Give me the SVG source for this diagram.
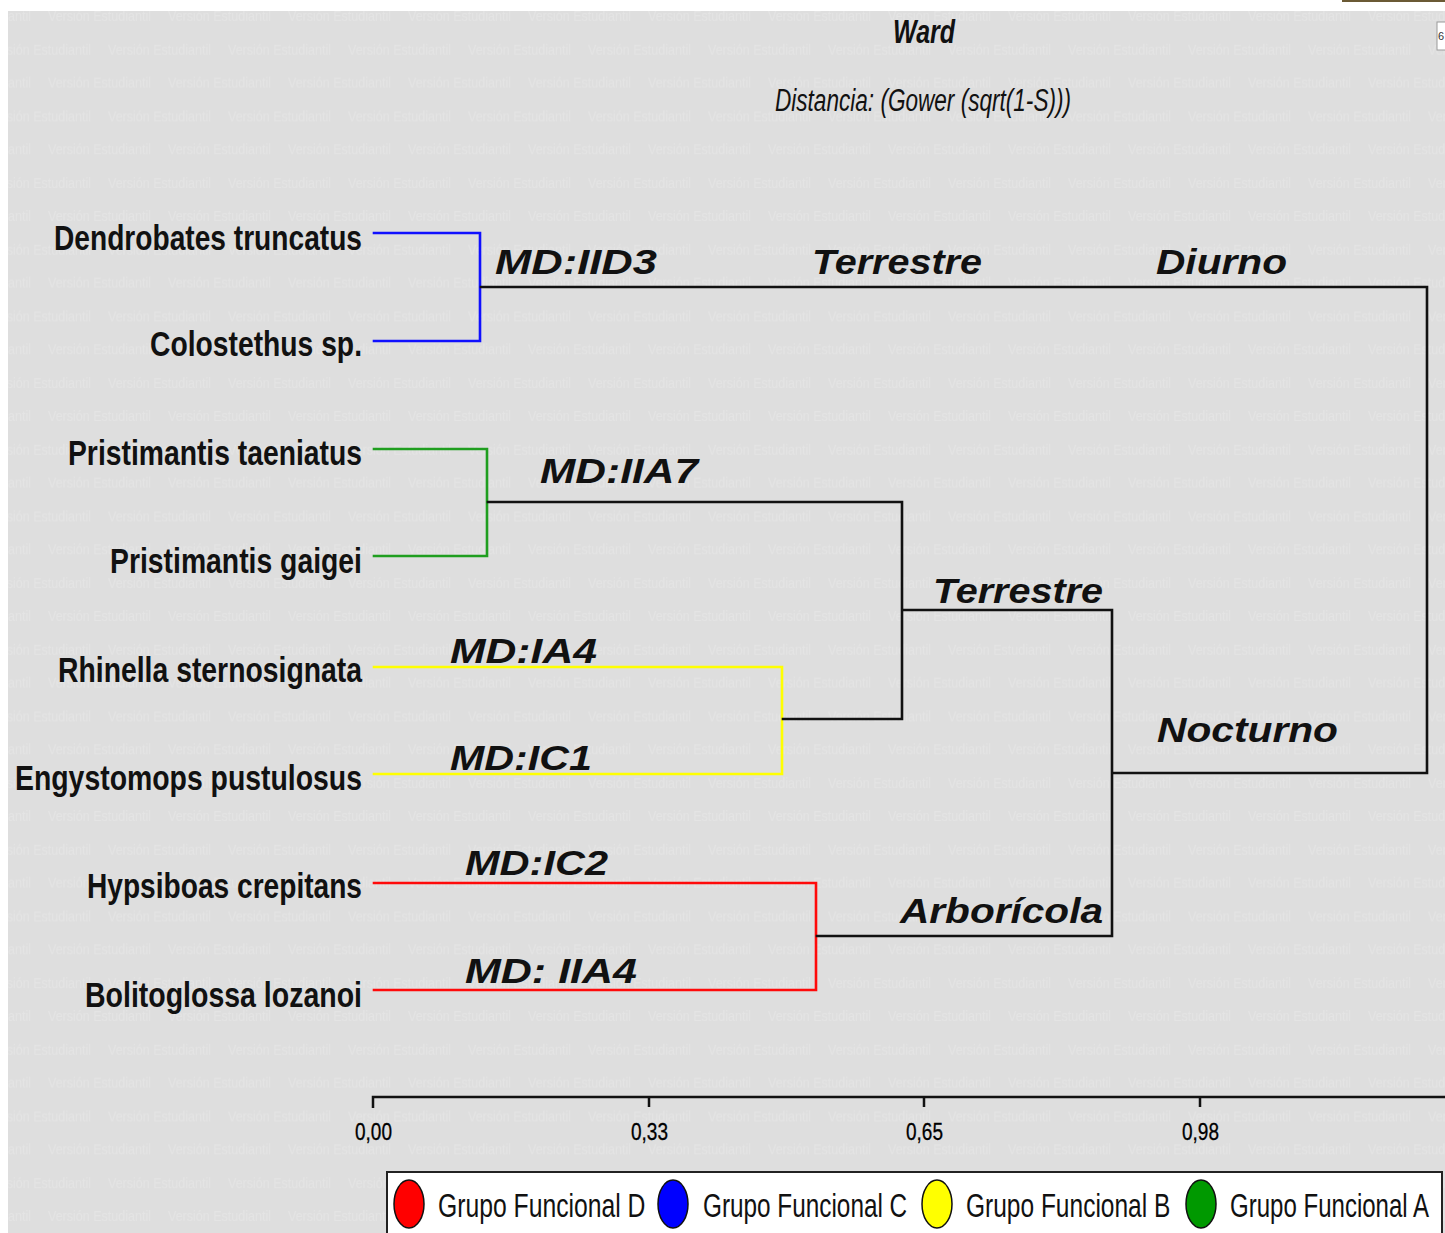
<svg xmlns="http://www.w3.org/2000/svg" width="1445" height="1233" viewBox="0 0 1445 1233">
  <style>
    .leaf { font-family: "Liberation Sans Narrow", "Liberation Sans", Arial, sans-serif; font-weight: bold; font-size: 35px; fill: #111; text-anchor: start; }
    .clab { font-family: "Liberation Sans", Arial, sans-serif; font-weight: bold; font-style: italic; font-size: 35px; fill: #111; }
    .title { font-family: "Liberation Sans Narrow", "Liberation Sans", Arial, sans-serif; font-style: italic; fill: #111; }
    .tick { font-family: "Liberation Sans Narrow", "Liberation Sans", Arial, sans-serif; font-size: 24px; fill: #000; stroke: #000; stroke-width: 0.3; }
    .leg { font-family: "Liberation Sans", Arial, sans-serif; font-size: 34px; fill: #111; }
    .wm { font-family: "Liberation Sans Narrow", "Liberation Sans", Arial, sans-serif; font-size: 15px; fill: #e4e4e4; }
    .br { fill: none; stroke-width: 2.6; stroke-linejoin: miter; stroke-linecap: square; }
  </style>
  <defs>
    <!-- repeated faint watermark of the student edition -->
    <pattern id="wmark" patternUnits="userSpaceOnUse" x="0" y="0" width="120" height="66.67">
      <text class="wm" x="-72" y="21" textLength="103" lengthAdjust="spacingAndGlyphs">Versión Estudiantil</text>
      <text class="wm" x="48" y="21" textLength="103" lengthAdjust="spacingAndGlyphs">Versión Estudiantil</text>
      <text class="wm" x="-12" y="54.5" textLength="103" lengthAdjust="spacingAndGlyphs">Versión Estudiantil</text>
      <text class="wm" x="108" y="54.5" textLength="103" lengthAdjust="spacingAndGlyphs">Versión Estudiantil</text>
    </pattern>
  </defs>

  <!-- page and plot background -->
  <rect x="0" y="0" width="1445" height="1233" fill="#ffffff"/>
  <rect x="8" y="11" width="1437" height="1222" fill="#dedede"/>
  <rect x="8" y="11" width="1437" height="1222" fill="url(#wmark)"/>
  <rect x="1342" y="0" width="103" height="2" fill="#6b5a35"/>
  <rect x="1437" y="22" width="10" height="28" fill="#ffffff" stroke="#9a9a9a" stroke-width="1"/>
  <text x="1438" y="40" font-family="Liberation Sans, Arial, sans-serif" font-size="11" fill="#333">6</text>

  <!-- titles -->
  <g id="title">
    <text class="title" x="893" y="43" font-size="34" font-weight="bold" textLength="62" lengthAdjust="spacingAndGlyphs">Ward</text>
    <text class="title" x="775" y="111" font-size="31" textLength="296" lengthAdjust="spacingAndGlyphs">Distancia: (Gower (sqrt(1-S)))</text>
  </g>

  <!-- dendrogram branches -->
  <g id="connectors">
    <path class="br" stroke="#1010ff" d="M374,233 H480 V341 H374"/>
    <path class="br" stroke="#1f9e1f" d="M374,449 H487 V556 H374"/>
    <path class="br" stroke="#ffff00" d="M374,667 H782 V774 H374"/>
    <path class="br" stroke="#ff0a0a" d="M374,883 H816 V990 H374"/>
    <path class="br" stroke="#111111" d="M481,287 H1427 V773 H1113"/>
    <path class="br" stroke="#111111" d="M488,502 H902 V719 H783"/>
    <path class="br" stroke="#111111" d="M903,610 H1112 V936 H817"/>
  </g>

  <!-- species (leaves) -->
  <g id="leaf-dendrobates"><text class="leaf" x="54" y="250" textLength="308" lengthAdjust="spacingAndGlyphs">Dendrobates truncatus</text></g>
  <g id="leaf-colostethus"><text class="leaf" x="150" y="356" textLength="212" lengthAdjust="spacingAndGlyphs">Colostethus sp.</text></g>
  <g id="leaf-p-taeniatus"><text class="leaf" x="68" y="465" textLength="294" lengthAdjust="spacingAndGlyphs">Pristimantis taeniatus</text></g>
  <g id="leaf-p-gaigei"><text class="leaf" x="110" y="573" textLength="252" lengthAdjust="spacingAndGlyphs">Pristimantis gaigei</text></g>
  <g id="leaf-rhinella"><text class="leaf" x="58" y="682" textLength="304" lengthAdjust="spacingAndGlyphs">Rhinella sternosignata</text></g>
  <g id="leaf-engystomops"><text class="leaf" x="15" y="790" textLength="347" lengthAdjust="spacingAndGlyphs">Engystomops pustulosus</text></g>
  <g id="leaf-hypsiboas"><text class="leaf" x="87" y="898" textLength="275" lengthAdjust="spacingAndGlyphs">Hypsiboas crepitans</text></g>
  <g id="leaf-bolitoglossa"><text class="leaf" x="85" y="1007" textLength="277" lengthAdjust="spacingAndGlyphs">Bolitoglossa lozanoi</text></g>

  <!-- cluster annotations -->
  <g id="clade-diurno">
    <text class="clab" x="495" y="274" textLength="162" lengthAdjust="spacingAndGlyphs">MD:IID3</text>
    <text class="clab" x="812" y="274" textLength="170" lengthAdjust="spacingAndGlyphs">Terrestre</text>
    <text class="clab" x="1156" y="274" textLength="131" lengthAdjust="spacingAndGlyphs">Diurno</text>
  </g>
  <g id="clade-iia7"><text class="clab" x="540" y="483" textLength="158" lengthAdjust="spacingAndGlyphs">MD:IIA7</text></g>
  <g id="clade-terrestre"><text class="clab" x="933" y="603" textLength="170" lengthAdjust="spacingAndGlyphs">Terrestre</text></g>
  <g id="clade-nocturno"><text class="clab" x="1157" y="742" textLength="181" lengthAdjust="spacingAndGlyphs">Nocturno</text></g>
  <g id="clade-arboricola"><text class="clab" x="900" y="923" textLength="203" lengthAdjust="spacingAndGlyphs">Arborícola</text></g>
  <g id="clade-ia4"><text class="clab" x="450" y="663" textLength="147" lengthAdjust="spacingAndGlyphs">MD:IA4</text></g>
  <g id="clade-ic1"><text class="clab" x="450" y="770" textLength="142" lengthAdjust="spacingAndGlyphs">MD:IC1</text></g>
  <g id="clade-ic2"><text class="clab" x="465" y="875" textLength="143" lengthAdjust="spacingAndGlyphs">MD:IC2</text></g>
  <g id="clade-iia4"><text class="clab" x="465" y="983" textLength="172" lengthAdjust="spacingAndGlyphs">MD: IIA4</text></g>

  <!-- distance axis -->
  <g id="axis">
    <path d="M373,1108 V1097 H1445 M649,1097 V1107 M924,1097 V1107 M1200,1097 V1107" fill="none" stroke="#111" stroke-width="2.5"/>
    <text class="tick" x="355" y="1140" textLength="37" lengthAdjust="spacingAndGlyphs">0,00</text>
    <text class="tick" x="631" y="1140" textLength="37" lengthAdjust="spacingAndGlyphs">0,33</text>
    <text class="tick" x="906" y="1140" textLength="37" lengthAdjust="spacingAndGlyphs">0,65</text>
    <text class="tick" x="1182" y="1140" textLength="37" lengthAdjust="spacingAndGlyphs">0,98</text>
  </g>

  <!-- legend (box runs off the bottom edge); condensed text via horizontal scale -->
  <g id="legend">
    <rect x="387" y="1172" width="1055" height="61" fill="#ffffff"/>
    <path d="M387,1233 V1172 H1442 V1233" fill="none" stroke="#222" stroke-width="2"/>
    <ellipse cx="409" cy="1204" rx="15" ry="24" fill="#ff0000" stroke="#111" stroke-width="1.5"/>
    <text class="leg" transform="translate(438,1217) scale(0.727,1)">Grupo Funcional D</text>
    <ellipse cx="673" cy="1204" rx="15" ry="24" fill="#0000ff" stroke="#111" stroke-width="1.5"/>
    <text class="leg" transform="translate(703,1217) scale(0.716,1)">Grupo Funcional C</text>
    <ellipse cx="937" cy="1204" rx="15" ry="24" fill="#ffff00" stroke="#111" stroke-width="1.5"/>
    <text class="leg" transform="translate(966,1217) scale(0.721,1)">Grupo Funcional B</text>
    <ellipse cx="1201" cy="1204" rx="15" ry="24" fill="#009900" stroke="#111" stroke-width="1.5"/>
    <text class="leg" transform="translate(1230,1217) scale(0.707,1)">Grupo Funcional A</text>
  </g>
</svg>
